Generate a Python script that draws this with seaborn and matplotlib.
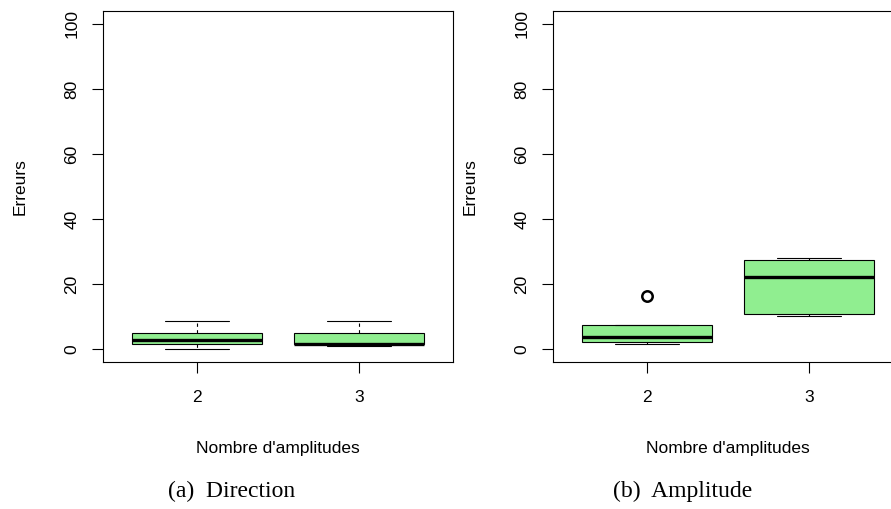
import numpy as np
import pandas as pd
import matplotlib
matplotlib.use("Agg")
import matplotlib.pyplot as plt
import seaborn as sns

sns.set_theme(style='white')
plt.rcParams['font.family'] = ['Liberation Sans', 'DejaVu Sans']
plt.rcParams['text.color'] = 'black'
plt.rcParams['axes.labelcolor'] = 'black'
plt.rcParams['xtick.color'] = 'black'
plt.rcParams['ytick.color'] = 'black'

# values (errors per group)
groups = ['2', '3']
dir_n2 = [0.0, 1.5, 2.8, 4.8, 8.7]
dir_n3 = [0.8, 1.5, 1.5, 4.8, 8.7]
amp_n2 = [1.4, 2.0, 2.2, 3.0, 3.8, 5.0, 7.4, 7.4, 16.3]
amp_n3 = [10.2, 10.8, 22.2, 27.4, 28.1]

y_ticks = [0, 20, 40, 60, 80, 100]
x_label = "Nombre d'amplitudes"
y_label = "Erreurs"
captions = ["(a)  Direction", "(b)  Amplitude"]


def make_frame(a, b):
    return pd.DataFrame({
        'n': [groups[0]] * len(a) + [groups[1]] * len(b),
        'err': a + b,
    })


W, H = 891, 509
fig = plt.figure(figsize=(W / 100, H / 100), dpi=100)

panels = [
    (make_frame(dir_n2, dir_n3), 103),
    (make_frame(amp_n2, amp_n3), 553),
]

for (df, left_px), cap in zip(panels, captions):
    ax = fig.add_axes([left_px / W, (H - 362) / H, 350 / W, 351 / H])
    sns.boxplot(data=df, x='n', y='err', order=groups, ax=ax,
                color='#90EE90', saturation=1, width=0.8,
                linecolor='black', linewidth=0.8,
                whiskerprops=dict(linestyle=(0, (3, 3))),
                medianprops=dict(linewidth=2.4, solid_capstyle='butt'),
                flierprops=dict(marker='o', markersize=7.5,
                                markerfacecolor='none',
                                markeredgecolor='black',
                                markeredgewidth=1.8))
    ax.set_xlim(-0.58, 1.58)
    ax.set_ylim(-4, 104)
    ax.set_yticks(y_ticks)
    ax.set_xticks([0, 1])
    ax.set_xticklabels(groups)
    for s in ax.spines.values():
        s.set_visible(True)
        s.set_color('black')
        s.set_linewidth(0.8)
    ax.tick_params(axis='both', direction='out', length=8, width=0.8,
                   color='black', labelcolor='black', labelsize=12.5,
                   pad=9, bottom=True, left=True)
    ax.tick_params(axis='x', pad=12)
    ax.tick_params(axis='y', labelrotation=90)
    for lab in ax.get_yticklabels():
        lab.set_va('center')
    ax.set_xlabel(x_label, fontsize=12.5, color='black')
    ax.set_ylabel(y_label, fontsize=12.5, color='black')
    ax.xaxis.set_label_coords(0.5, -0.225)
    ax.xaxis.label.set_va('top')
    ax.yaxis.set_label_coords(-0.215, 0.5)

fig.text(232 / W, 1 - 491 / H, captions[0], ha='center', va='center',
         fontsize=17, family='Liberation Serif', color='black')
fig.text(683 / W, 1 - 491 / H, captions[1], ha='center', va='center',
         fontsize=17, family='Liberation Serif', color='black')

fig.savefig('out.png', dpi=100)
